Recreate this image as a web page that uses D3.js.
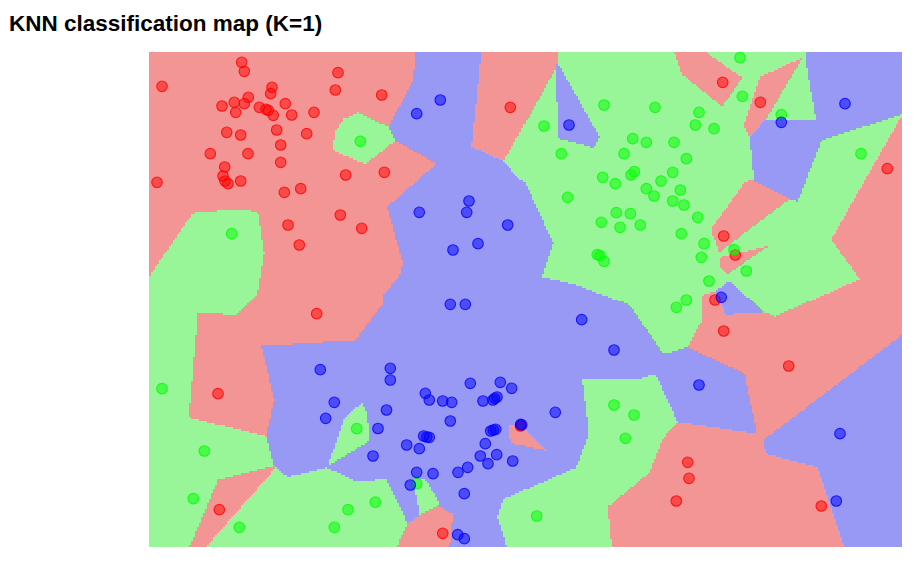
<!DOCTYPE html>
<html><head><meta charset="utf-8">
<script src="https://cdn.jsdelivr.net/npm/d3@7"></script>
<style>html,body{margin:0;padding:0;background:#fff}svg{display:block}</style>
</head><body><svg id="c" width="920" height="577"></svg>
<script>
const titleText = "KNN classification map (K=1)";
const xDomain = [0, 75.3];
const yDomain = [0, 49.5];
const gridCols = 376;
const gridRows = 248;
const classNames = ["red", "green", "blue"];
const regionColors = ["#F49595", "#98F598", "#9898F5"];
const pointColors = ["#ff0000", "#00ff00", "#0000ff"];
const redPoints = [[9.27,48.47],[9.53,47.57],[1.30,46.07],[18.9,47.43],[18.63,45.7],[23.27,45.2],[12.3,45.97],[12.17,45.33],[9.93,44.97],[8.53,44.47],[9.53,44.33],[7.3,44.1],[8.67,43.47],[11.03,43.97],[11.7,43.77],[11.93,43.67],[12.43,43.17],[13.63,44.33],[14.27,43.2],[16.5,43.47],[7.77,41.47],[9.17,41.2],[12.77,41.7],[15.77,41.33],[13.17,40.2],[6.13,39.33],[9.9,39.33],[13.17,38.47],[7.57,38.0],[7.4,37.1],[7.6,36.6],[7.9,36.33],[9.17,36.6],[0.8,36.47],[13.53,35.47],[15.17,35.83],[19.67,37.2],[23.53,37.47],[13.9,32.2],[19.13,33.2],[21.27,31.87],[15.03,30.2],[16.77,23.33],[6.9,15.33],[7.03,3.73],[29.37,1.37],[36.13,43.97],[57.37,46.47],[61.13,44.47],[73.83,37.83],[57.47,31.1],[58.63,29.2],[56.6,24.7],[57.47,21.6],[63.97,18.1],[37.15,12.1],[53.87,8.47],[54,6.87],[52.73,4.6],[67.23,4.1]];
const greenPoints = [[21.13,40.57],[8.27,31.33],[39.5,42.1],[45.5,44.2],[50.6,43.97],[41.23,39.33],[48.37,40.83],[49.73,40.47],[47.5,39.33],[48.53,37.53],[48.2,37.2],[45.37,36.97],[46.63,36.33],[49.73,35.83],[50.5,35.1],[51.2,36.6],[41.87,34.97],[46.73,33.43],[48.13,33.33],[45.23,32.47],[47.1,31.97],[49.13,32.2],[44.83,29.23],[45.1,29.13],[45.5,28.57],[59.1,48.93],[59.33,45.07],[55,43.47],[54.63,42.2],[56.5,41.83],[63.23,43.23],[71.2,39.33],[52.5,40.47],[53.73,38.83],[52.37,37.47],[53.13,35.7],[52.37,34.6],[53.5,34.2],[54.87,32.97],[53.23,31.33],[55.5,30.33],[55.23,28.97],[58.5,29.73],[59.73,27.6],[56,26.6],[53.73,24.7],[52.73,23.97],[1.3,15.83],[5.53,9.6],[4.43,4.83],[9.03,1.97],[20.77,11.83],[22.63,4.48],[19.9,3.73],[18.53,1.97],[26.77,6.33],[38.77,3.1],[46.5,14.2],[48.5,13.2],[47.63,10.87]];
const bluePoints = [[29.13,44.7],[26.77,43.33],[42,42.2],[32,34.6],[31.77,33.47],[27.03,33.47],[35.87,32.2],[32.9,30.33],[30.4,29.7],[30.13,24.27],[31.63,24.27],[69.6,44.33],[63.23,42.47],[57.23,24.97],[43.27,22.73],[46.5,19.7],[55,16.2],[69.1,11.33],[68.73,4.6],[17.13,17.73],[24.13,17.87],[24.13,16.7],[18.53,14.47],[17.67,12.87],[23.75,13.7],[22.9,11.85],[22.4,9.1],[32.13,16.37],[35.13,16.47],[36.27,15.87],[27.63,15.37],[28.03,14.7],[29.37,14.6],[30.27,14.47],[33.4,14.6],[34.4,14.7],[34.57,14.87],[34.8,15],[40.63,13.47],[30.13,12.6],[37.17,12.26],[37.27,12.22],[34.17,11.6],[34.43,11.7],[34.67,11.77],[27.47,11.1],[28.03,10.97],[27.77,11],[25.77,10.2],[27.03,9.83],[33.63,10.33],[33.13,9.1],[34.77,9.23],[33.9,8.33],[36.37,8.6],[31.87,7.97],[30.9,7.47],[26.77,7.47],[28.4,7.33],[26.13,6.2],[31.53,5.33],[30.87,1.23],[31.53,0.83]];

const svg = d3.select("#c");
const x = d3.scaleLinear().domain(xDomain).range([149, 902]);
const y = d3.scaleLinear().domain(yDomain).range([547, 52]);
const groups = [redPoints, greenPoints, bluePoints];
const all = groups.flatMap((g, c) => g.map(p => ({px: x(p[0]), py: y(p[1]), c})));

svg.append("text").attr("x", 9).attr("y", 31)
  .attr("font-family", "'Liberation Sans', Arial, sans-serif")
  .attr("font-weight", "bold").attr("font-size", 22.5).attr("fill", "#000").text(titleText);

// 1-nearest-neighbour map: each grid cell takes the class of the point nearest its top-left corner
const delaunay = d3.Delaunay.from(all, d => d.px, d => d.py);
const left = x(xDomain[0]), top0 = y(yDomain[1]);
const cw = (x(xDomain[1]) - left) / gridCols, ch = (y(yDomain[0]) - top0) / gridRows;
const paths = classNames.map(() => d3.path());
let hint = 0;
for (let r = 0; r < gridRows; r++) {
  const y0 = Math.round(top0 + r * ch), y1 = Math.round(top0 + (r + 1) * ch);
  let start = 0, cur = -1;
  for (let k = 0; k <= gridCols; k++) {
    let cls = -1;
    if (k < gridCols) {
      hint = delaunay.find(left + k * cw, top0 + r * ch, hint);
      cls = all[hint].c;
    }
    if (cls !== cur) {
      if (cur >= 0) {
        const x0 = Math.round(left + start * cw), x1 = Math.round(left + k * cw);
        paths[cur].rect(x0, y0, x1 - x0, y1 - y0);
      }
      start = k; cur = cls;
    }
  }
}
svg.append("g").attr("class", "regions").selectAll("path").data(paths).join("path")
  .attr("d", d => d.toString())
  .attr("fill", (d, i) => regionColors[i])
  .attr("shape-rendering", "crispEdges");

groups.forEach((g, c) => {
  svg.append("g").attr("class", classNames[c]).selectAll("circle").data(g).join("circle")
    .attr("cx", d => x(d[0])).attr("cy", d => y(d[1])).attr("r", 5.3)
    .attr("fill", pointColors[c]).attr("fill-opacity", 0.5)
    .attr("stroke", pointColors[c]).attr("stroke-opacity", 0.8).attr("stroke-width", 1.1);
});
</script></body></html>
